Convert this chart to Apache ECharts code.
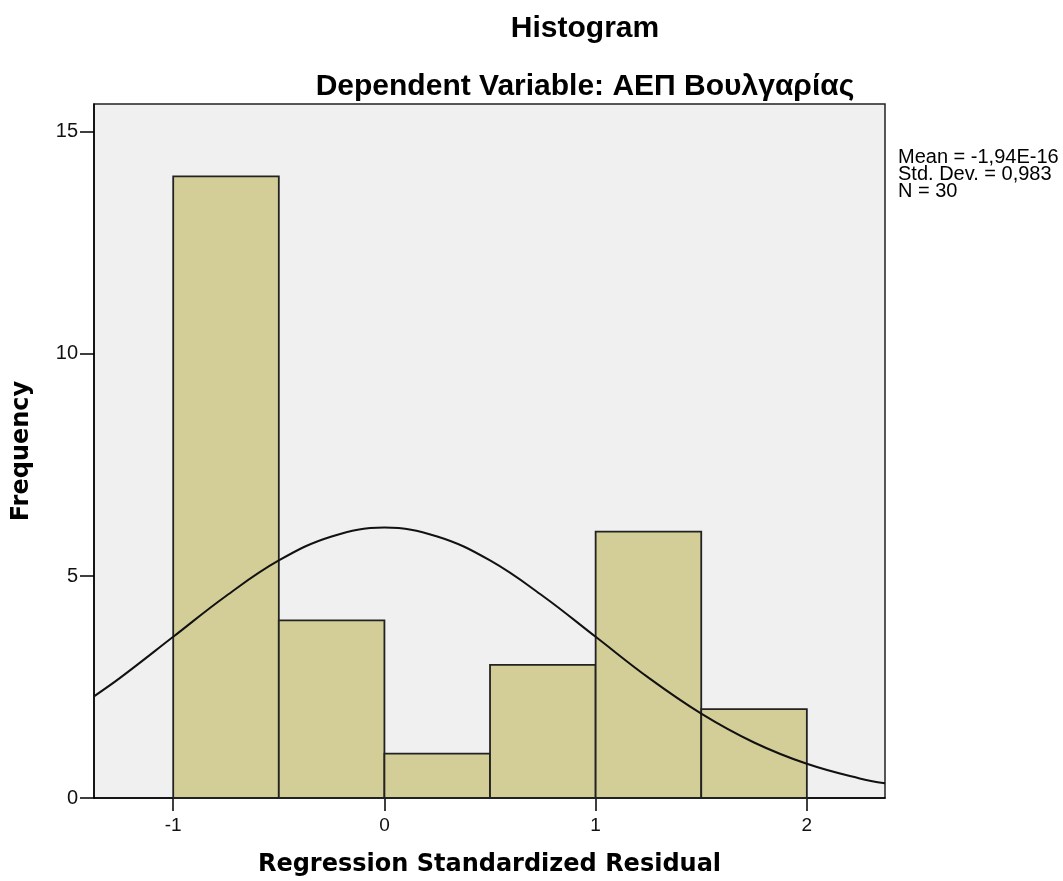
<!DOCTYPE html>
<html>
<head>
<meta charset="utf-8">
<script src="https://cdn.jsdelivr.net/npm/echarts@6/dist/echarts.min.js"></script>
<style>
  html, body { margin: 0; padding: 0; background: #fff; }
  #chart { width: 1063px; height: 881px; }
</style>
</head>
<body>
<div id="chart"></div>
<script>
// histogram bins (start, end) and counts
const binStarts = [-1, -0.5, 0, 0.5, 1, 1.5]
const binEnds = [-0.5, 0, 0.5, 1, 1.5, 2]
const counts = [14, 4, 1, 3, 6, 2]

// normal curve
const curveX = [-1.375, -1.25, -1, -0.75, -0.5, -0.25, 0, 0.25, 0.5, 0.75, 1, 1.25, 1.5, 1.75, 2, 2.25, 2.37]
const curveY = [2.29, 2.71, 3.63, 4.55, 5.35, 5.89, 6.09, 5.89, 5.35, 4.55, 3.63, 2.71, 1.90, 1.25, 0.77, 0.44, 0.33]

const xTicks = [-1, 0, 1, 2]
const yTicks = [0, 5, 10, 15]
const statsLines = ['Mean = -1,94E-16', 'Std. Dev. = 0,983', 'N = 30']

const chart = echarts.init(document.getElementById('chart'))

const titleFont = { fontFamily: 'Liberation Sans, Arial', fontSize: 30, fontWeight: 'bold', color: '#000' }

const option = {
    animation: false,
    backgroundColor: '#ffffff',
    title: [
        { text: 'Histogram', left: 580, top: 9, textAlign: 'center', textStyle: titleFont },
        { text: 'Dependent Variable: ΑΕΠ Βουλγαρίας', left: 580, top: 67, textAlign: 'center', textStyle: titleFont }
    ],
    graphic: [
        {
            type: 'text',
            left: 898,
            top: 147,
            style: {
                text: statsLines.join('\n'),
                font: '20px "Liberation Sans", Arial, sans-serif',
                lineHeight: 17,
                fill: '#000'
            }
        }
    ],
    grid: {
        left: 94,
        right: 178,
        top: 104,
        bottom: 83,
        outerBoundsMode: 'none',
        containLabel: false,
        show: true,
        backgroundColor: '#f0f0f0',
        borderColor: '#222',
        borderWidth: 1.5
    },
    xAxis: {
        type: 'value',
        min: -1.375,
        max: 2.37,
        name: 'Regression Standardized Residual',
        nameLocation: 'middle',
        nameGap: 55,
        nameTextStyle: { fontFamily: 'DejaVu Sans', fontWeight: 'bold', fontSize: 24, color: '#000' },
        axisLine: { show: true, onZero: false, lineStyle: { color: '#000', width: 1.5 } },
        axisTick: { show: true, customValues: xTicks, length: 13, inside: false, lineStyle: { color: '#000', width: 1.5 } },
        axisLabel: { customValues: xTicks, margin: 18, fontFamily: 'Liberation Sans, Arial', fontSize: 19, color: '#111' },
        splitLine: { show: false }
    },
    yAxis: {
        type: 'value',
        min: 0,
        max: 15.63,
        name: 'Frequency',
        nameLocation: 'middle',
        nameGap: 60,
        nameRotate: 90,
        nameTextStyle: { fontFamily: 'DejaVu Sans', fontWeight: 'bold', fontSize: 24, color: '#000' },
        axisLine: { show: true, onZero: false, lineStyle: { color: '#000', width: 1.5 } },
        axisTick: { show: true, customValues: yTicks, length: 14, lineStyle: { color: '#000', width: 1.5 } },
        axisLabel: { customValues: yTicks, margin: 16, fontFamily: 'Liberation Sans, Arial', fontSize: 20, color: '#111' },
        splitLine: { show: false }
    },
    series: [
        {
            type: 'custom',
            data: counts.map((c, i) => [binStarts[i], binEnds[i], c]),
            encode: { x: [0, 1], y: 2 },
            renderItem: (params, api) => {
                const p0 = api.coord([api.value(0), 0])
                const p1 = api.coord([api.value(1), api.value(2)])
                return {
                    type: 'rect',
                    shape: { x: p0[0], y: p1[1], width: p1[0] - p0[0], height: p0[1] - p1[1] },
                    style: { fill: '#d3ce97', stroke: '#222', lineWidth: 1.8 }
                }
            },
            z: 2
        },
        {
            type: 'line',
            data: curveX.map((x, i) => [x, curveY[i]]),
            smooth: 0.4,
            showSymbol: false,
            lineStyle: { color: '#111', width: 2 },
            z: 3
        }
    ]
}

chart.setOption(option)
</script>
</body>
</html>
